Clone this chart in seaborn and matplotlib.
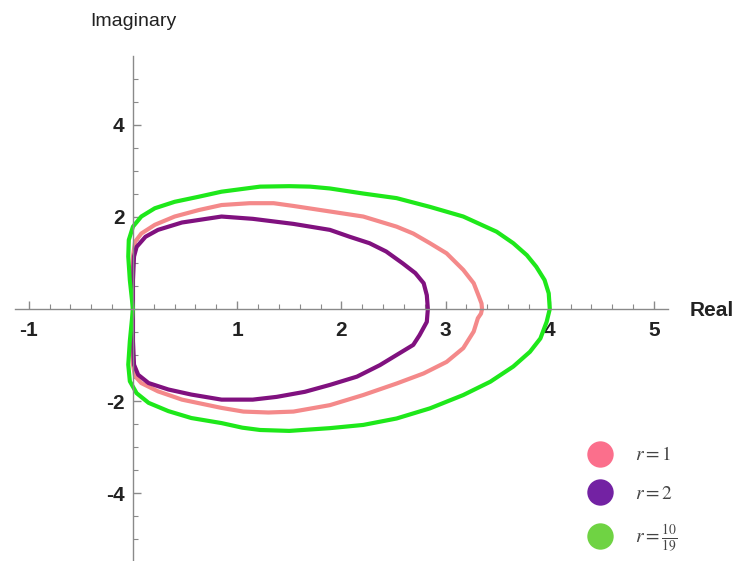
import matplotlib
matplotlib.use("Agg")
import numpy as np
import matplotlib.pyplot as plt
import seaborn as sns
from matplotlib.lines import Line2D
from matplotlib.ticker import FixedLocator

# boundary points, one closed loop per r
# r = 1
pink_re = [0, 0, 0, 0.02, 0.08, 0.21, 0.40, 0.63, 0.85, 1.12, 1.35, 1.54, 1.89, 2.21, 2.53,
           2.69, 2.85, 3.01, 3.17, 3.27, 3.32, 3.345, 3.35,
           3.34, 3.31, 3.27, 3.17, 3.01, 2.79, 2.53, 2.21, 1.89, 1.54, 1.30, 1.06, 0.85, 0.47,
           0.24, 0.08, 0.02, 0, 0, 0]
pink_im = [0, 0.6, 1.14, 1.46, 1.64, 1.83, 2.01, 2.15, 2.26, 2.30, 2.30, 2.24, 2.12, 2.01, 1.79,
           1.64, 1.43, 1.21, 0.85, 0.56, 0.27, 0.12, 0,
           -0.10, -0.20, -0.49, -0.85, -1.15, -1.40, -1.62, -1.87, -2.09, -2.23, -2.25, -2.23,
           -2.15, -1.97, -1.79, -1.61, -1.46, -1.21, -0.6, 0]
# r = 2
purple_re = [0, 0, 0.01, 0.035, 0.12, 0.24, 0.47, 0.85, 1.15, 1.54, 1.89, 2.08, 2.27, 2.43,
             2.59, 2.71, 2.79, 2.82, 2.83,
             2.82, 2.75, 2.69, 2.53, 2.37, 2.15, 1.89, 1.65, 1.38, 1.15, 0.85, 0.56, 0.34,
             0.15, 0.05, 0.01, 0, 0]
purple_im = [0, 0.63, 1.14, 1.35, 1.57, 1.72, 1.88, 2.01, 1.96, 1.85, 1.72, 1.57, 1.43, 1.25,
             0.99, 0.78, 0.56, 0.30, 0,
             -0.28, -0.57, -0.78, -1.00, -1.22, -1.47, -1.65, -1.80, -1.91, -1.97, -1.97,
             -1.86, -1.75, -1.61, -1.43, -1.21, -0.70, 0]
# r = 10/19
green_re = [0, -0.03, -0.045, -0.04, 0, 0.08, 0.21, 0.40, 0.63, 0.85, 1.22, 1.50, 1.70, 1.89,
            2.21, 2.53, 2.85, 3.17, 3.49, 3.65, 3.78, 3.87, 3.95, 3.99, 4.0,
            3.97, 3.91, 3.81, 3.65, 3.43, 3.17, 2.85, 2.53, 2.21, 1.89, 1.50, 1.22, 1.05,
            0.85, 0.56, 0.34, 0.15, 0.035, -0.03, -0.045, -0.03, 0]
green_im = [0, 0.63, 1.14, 1.50, 1.79, 2.01, 2.19, 2.33, 2.44, 2.55, 2.66, 2.67, 2.66, 2.62,
            2.51, 2.41, 2.22, 2.01, 1.68, 1.43, 1.17, 0.92, 0.63, 0.34, 0,
            -0.28, -0.64, -0.93, -1.25, -1.58, -1.87, -2.16, -2.38, -2.52, -2.59, -2.65,
            -2.63, -2.58, -2.48, -2.37, -2.22, -2.04, -1.83, -1.57, -1.21, -0.70, 0]

x_ticks = [-1, 1, 2, 3, 4, 5]
y_ticks = [-4, -2, 2, 4]
legend_labels = [r"$r = 1$", r"$r = 2$", r"$r = \frac{10}{19}$"]

sns.set_style("white")
plt.rcParams["mathtext.fontset"] = "stix"
tick_font = ["Liberation Sans Narrow", "Liberation Sans", "DejaVu Sans"]

fig = plt.figure(figsize=(7.34, 5.61), dpi=100)
ax = fig.add_axes([0, 0, 1, 1])

line_kw = dict(sort=False, estimator=None, lw=3, solid_joinstyle="round", ax=ax)
sns.lineplot(x=pink_re, y=pink_im, color="#f4898a", **line_kw)
sns.lineplot(x=purple_re, y=purple_im, color="#80117f", **line_kw)
sns.lineplot(x=green_re, y=green_im, color="#1ee81a", **line_kw)

ax.set_xlim(-1.276, 5.768)
ax.set_ylim(-5.478, 6.717)

# mathematica style axes through the origin
for side in ["top", "right"]:
    ax.spines[side].set_visible(False)
ax.spines["bottom"].set_position(("data", 0))
ax.spines["left"].set_position(("data", 0))
ax.spines["bottom"].set_bounds(-1.13, 5.13)
ax.spines["left"].set_bounds(-5.5, 5.5)
for side in ["bottom", "left"]:
    ax.spines[side].set_color("#8a8a8a")
    ax.spines[side].set_linewidth(1.0)

ax.xaxis.set_major_locator(FixedLocator(x_ticks))
ax.yaxis.set_major_locator(FixedLocator(y_ticks))
ax.xaxis.set_minor_locator(FixedLocator(np.arange(-1.0, 5.01, 0.2)))
ax.yaxis.set_minor_locator(FixedLocator(np.arange(-5.0, 5.01, 0.5)))
ax.tick_params(which="both", direction="in", color="#8a8a8a", bottom=True, left=True)
ax.tick_params(which="major", length=6, width=1)
ax.tick_params(which="minor", length=3.5, width=0.8)
ax.tick_params(axis="x", which="major", pad=9)
ax.tick_params(axis="y", which="major", pad=6)
ax.set_xticklabels([str(t) for t in x_ticks])
ax.set_yticklabels([str(t) for t in y_ticks])
for lab in ax.get_xticklabels() + ax.get_yticklabels():
    lab.set_family(tick_font)
    lab.set_fontsize(15)
    lab.set_fontweight("bold")
    lab.set_color("#222222")
ax.set_xlabel("")
ax.set_ylabel("")

fig.text(133 / 734, 1 - 22 / 561, "Imaginary", ha="center", va="center",
         fontsize=14, family=tick_font, color="#222222")
fig.text(690 / 734, 1 - 310 / 561, "Real", ha="left", va="center",
         fontsize=15, fontweight="bold", family=tick_font, color="#222222")

handles = [Line2D([], [], marker="o", linestyle="", markersize=19, markeredgewidth=0, color=c)
           for c in ["#fb6f8c", "#7322a3", "#6fd343"]]
ax.legend(handles, legend_labels, loc="upper left", bbox_to_anchor=(563 / 734, 1 - 428 / 561),
          bbox_transform=fig.transFigure, frameon=False, fontsize=14, labelspacing=1.0,
          handletextpad=0.8, labelcolor="#444444")

fig.savefig("out.png", dpi=100)
